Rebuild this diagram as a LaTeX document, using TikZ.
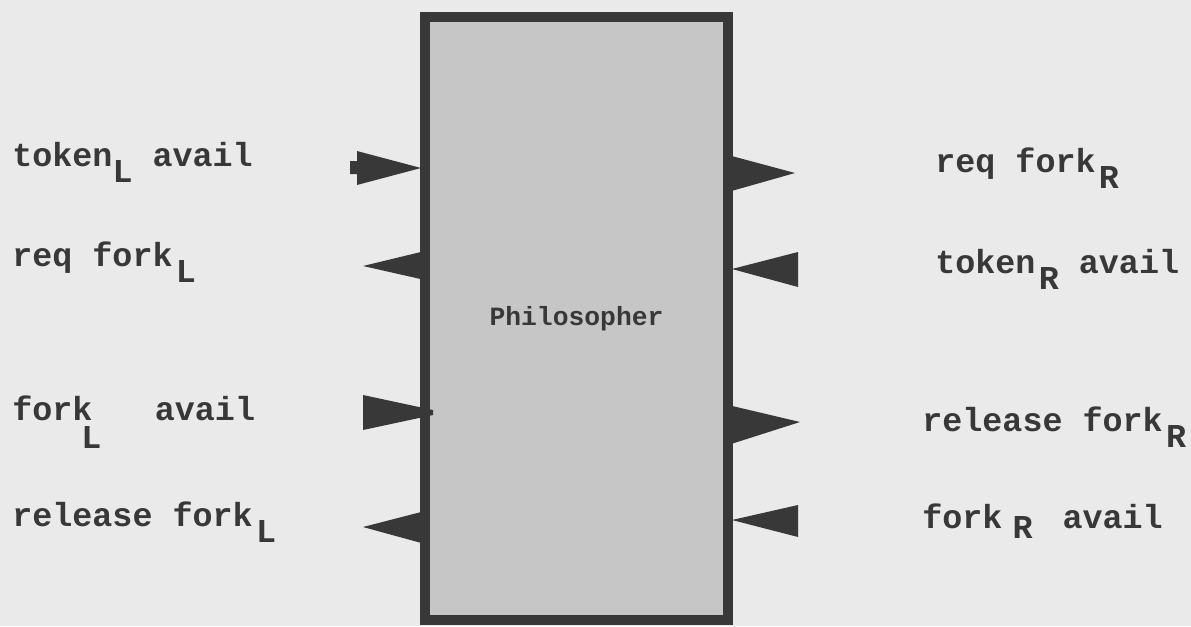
\documentclass[tikz,border=0pt]{standalone}
\usepackage{fontspec}
\usepackage{xcolor,tikz}
\setmonofont{Liberation Mono}
\definecolor{paper}{HTML}{EAEAEA}
\definecolor{ink}{HTML}{383838}
\definecolor{stip}{HTML}{C6C6C6}
\newcommand{\lowsub}[2][0.5em]{\raisebox{-#1}{#2}}
\tikzset{
  portlabel/.style={anchor=base west,inner sep=0pt,text=ink,
    font=\ttfamily\bfseries\fontsize{19}{22}\selectfont},
  wedge/.style={fill=ink}
}
\begin{document}
\begin{tikzpicture}[x=0.02cm,y=-0.02cm]
\fill[paper] (0,0) rectangle (1191,626);
\useasboundingbox (0,0) rectangle (1191,626);
% the process box
\node[draw=ink,line width=0.2cm,fill=stip,minimum width=6.06cm,minimum height=12.06cm,
  text=ink,font=\ttfamily\bfseries\fontsize{15}{18}\selectfont] (phil) at (576.5,318.5) {Philosopher};
% left side ports
\fill[wedge] (350,161)--(357,161)--(357,151)--(421,168)--(357,185)--(357,174)--(350,174)--cycle;
\node[portlabel] (tokL) at (12,166) {token\lowsub{L} avail};
\fill[wedge] (363,266)--(425,251)--(425,280)--cycle;
\node[portlabel] (reqL) at (12,266) {req fork\kern0.1em\lowsub{L}};
\fill[wedge] (363,395)--(433,410)--(433,415)--(363,430)--cycle;
\node[portlabel] (forkL) at (12,420) {fork\kern-0.33em\lowsub[0.85em]{L}\kern1.6em avail};
\fill[wedge] (363,527)--(425,511)--(425,544)--cycle;
\node[portlabel] (relL) at (12,526) {release fork\kern0.1em\lowsub{L}};
% right side ports
\fill[wedge] (728,155)--(795,173)--(728,192)--cycle;
\node[portlabel] (reqR) at (935,172) {req fork\kern0.1em\lowsub{R}};
\fill[wedge] (732,269)--(798,252)--(798,287)--cycle;
\node[portlabel] (tokR) at (935,273) {token\kern0.1em\lowsub{R} avail};
\fill[wedge] (728,405)--(800,422)--(728,445)--cycle;
\node[portlabel] (relR) at (922,431) {release fork\kern0.1em\lowsub{R}};
\fill[wedge] (732,520)--(798,505)--(798,537)--cycle;
\node[portlabel] (forkR) at (922,528) {fork\kern0.3em\lowsub[0.3em]{R}\kern0.9em avail};
\end{tikzpicture}
\end{document}
